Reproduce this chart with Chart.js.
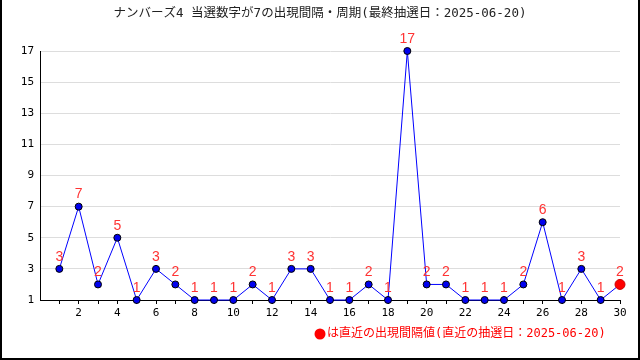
<!DOCTYPE html>
<html>
<head>
<meta charset="utf-8">
<script src="https://cdn.jsdelivr.net/npm/chart.js@4"></script>
<style>
  html, body { margin: 0; padding: 0; background: #fff; }
  #wrap { position: relative; width: 640px; height: 360px; box-sizing: border-box;
          border-left: 2px solid #000; border-right: 2px solid #000; border-bottom: 2px solid #000; }
  canvas { position: absolute; left: -2px; top: 0; }
</style>
</head>
<body>
<div id="wrap"><canvas id="chart" width="640" height="360"></canvas></div>
<script>
// ===== DATA =====
const titleText = 'ナンバーズ4 当選数字が7の出現間隔・周期(最終抽選日：2025-06-20)';
const legendText = 'は直近の出現間隔値(直近の抽選日：2025-06-20)';
const draws = [1, 2, 3, 4, 5, 6, 7, 8, 9, 10, 11, 12, 13, 14, 15, 16, 17, 18, 19, 20, 21, 22, 23, 24, 25, 26, 27, 28, 29, 30];
const intervals = [3, 7, 2, 5, 1, 3, 2, 1, 1, 1, 2, 1, 3, 3, 1, 1, 2, 1, 17, 2, 2, 1, 1, 1, 2, 6, 1, 3, 1, 2];
const yTicks = [1, 3, 5, 7, 9, 11, 13, 15, 17];

const MONO = '"DejaVu Sans Mono", "Noto Sans CJK JP", monospace';
const lastIdx = intervals.length - 1;

// ===== LABELS / TITLE / LEGEND PLUGIN =====
const decorPlugin = {
    id: 'decor',
    afterDatasetsDraw(chart) {
        const ctx = chart.ctx;
        const meta = chart.getDatasetMeta(0);
        ctx.save();
        // value labels above each point
        ctx.font = '14px "Liberation Sans", Arial, sans-serif';
        ctx.fillStyle = '#ff3333';
        ctx.textAlign = 'center';
        ctx.textBaseline = 'middle';
        meta.data.forEach((pt, i) => {
            ctx.fillText(String(intervals[i]), pt.x, pt.y - 12);
        });
        // title
        ctx.font = '12.5px ' + MONO;
        ctx.fillStyle = '#222';
        ctx.fillText(titleText, 320, 14);
        // legend
        ctx.fillStyle = '#ff0000';
        ctx.beginPath();
        ctx.arc(320, 334, 5.5, 0, Math.PI * 2);
        ctx.fill();
        ctx.font = '12px ' + MONO;
        ctx.textAlign = 'left';
        ctx.fillText(legendText, 327, 334);
        ctx.restore();
    }
};

const ctx = document.getElementById('chart').getContext('2d');
new Chart(ctx, {
    type: 'line',
    data: {
        datasets: [{
            data: draws.map((d, i) => ({ x: d, y: intervals[i] })),
            clip: false,
            borderColor: '#0000ff',
            borderWidth: 1,
            tension: 0,
            fill: false,
            pointBackgroundColor: intervals.map((_, i) => i === lastIdx ? '#ff0000' : '#0000ee'),
            pointBorderColor: intervals.map((_, i) => i === lastIdx ? '#cc0000' : '#000'),
            pointBorderWidth: 1,
            pointRadius: intervals.map((_, i) => i === lastIdx ? 5 : 3.5)
        }]
    },
    options: {
        responsive: false,
        animation: false,
        layout: { padding: { left: 0, right: 20, top: 51, bottom: 40 } },
        plugins: { legend: { display: false }, title: { display: false }, tooltip: { enabled: false } },
        scales: {
            x: {
                type: 'linear', min: 0, max: 30,
                afterFit: s => { s.height = 20; },
                afterBuildTicks: s => { s.ticks = draws.map(v => ({ value: v })); },
                ticks: {
                    autoSkip: false, maxRotation: 0, padding: 3,
                    color: '#000', font: { family: MONO, size: 11 },
                    callback: v => (v % 2 === 0 ? String(v) : '')
                },
                grid: { drawOnChartArea: false, drawTicks: true, tickLength: 4, tickColor: '#000' },
                border: { color: '#000', width: 1 }
            },
            y: {
                min: 1, max: 17,
                afterFit: s => { s.width = 40; },
                afterBuildTicks: s => { s.ticks = yTicks.map(v => ({ value: v })); },
                ticks: { color: '#000', padding: 6, font: { family: MONO, size: 11 } },
                grid: { color: '#dddddd', drawTicks: false },
                border: { color: '#000', width: 1 }
            }
        }
    },
    plugins: [decorPlugin]
});
</script>
</body>
</html>
